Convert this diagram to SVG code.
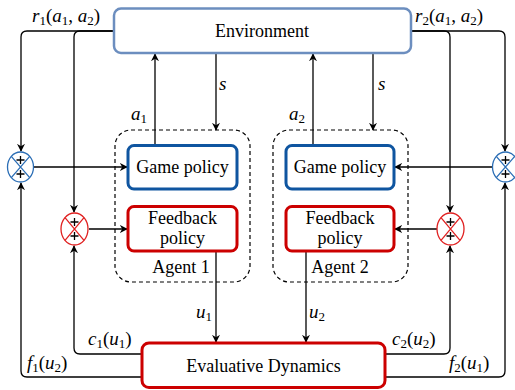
<svg xmlns="http://www.w3.org/2000/svg" width="515" height="390" viewBox="0 0 515 390">
<defs>
<marker id="ah" viewBox="0 0 10 10" refX="9" refY="5" markerWidth="8" markerHeight="8" markerUnits="userSpaceOnUse" orient="auto">
<path d="M0,0 L10,5 L0,10 L3,5 Z" fill="#000"/>
</marker>
<style>
.lbl{font-family:"Liberation Serif","Times New Roman",serif;font-size:18px;fill:#000;text-anchor:middle}
.math{font-family:"Liberation Serif",serif;font-size:19px;fill:#000}
.mi{font-style:italic}
.sub{font-size:13px}
.arr{fill:none;stroke:#000;stroke-width:1.3;marker-end:url(#ah)}
.env{fill:#fff;stroke:#6c8ebf;stroke-width:2.5}
.gp{fill:#fff;stroke:#0f55a0;stroke-width:3}
.fb{fill:#fff;stroke:#cc0000;stroke-width:3}
.agent{fill:none;stroke:#000;stroke-width:1.2;stroke-dasharray:4 3}
.jb{fill:#fff;stroke:#2a6db5;stroke-width:1.3}
.jbx{fill:none;stroke:#2a6db5;stroke-width:1.3}
.jr{fill:#fff;stroke:#e02020;stroke-width:1.3}
.jrx{fill:none;stroke:#e02020;stroke-width:1.3}
.pl{stroke:#000;stroke-width:1.3}
</style>
</defs>

<g id="connectors">
<path class="arr" d="M114,31 H27 Q21,31 21,37 V151"/>
<path class="arr" d="M114,31 H80 Q74,31 74,37 V212"/>
<path class="arr" d="M411,31 H444 Q450,31 450,37 V212"/>
<path class="arr" d="M411,31 H499 Q505,31 505,37 V151"/>
<path class="arr" d="M142,377 H27 Q21,377 21,371 V183"/>
<path class="arr" d="M142,354 H80 Q74,354 74,348 V246"/>
<path class="arr" d="M385,354 H444 Q450,354 450,348 V246"/>
<path class="arr" d="M385,377 H499 Q505,377 505,371 V183"/>
<path class="arr" d="M34,167 H127"/>
<path class="arr" d="M89,229 H127"/>
<path class="arr" d="M492,167 H395"/>
<path class="arr" d="M437,229 H395"/>
<path class="arr" d="M155,145 V54"/>
<path class="arr" d="M216,53 V130"/>
<path class="arr" d="M313,145 V54"/>
<path class="arr" d="M373,53 V130"/>
<path class="arr" d="M216,251 V342"/>
<path class="arr" d="M306,251 V342"/>
</g>

<g id="environment">
<rect class="env" x="114" y="8.5" width="297" height="44.5" rx="7"/>
<text class="lbl" x="262" y="37">Environment</text>
</g>

<g id="agent1">
<rect class="agent" x="115" y="130" width="135" height="152" rx="16"/>
<text class="lbl" x="181" y="273">Agent 1</text>
</g>
<g id="agent2">
<rect class="agent" x="273" y="130" width="135" height="152" rx="16"/>
<text class="lbl" x="340" y="273">Agent 2</text>
</g>

<g id="game-policy-1">
<rect class="gp" x="128" y="145.5" width="109" height="43.5" rx="6"/>
<text class="lbl" x="182.5" y="173">Game policy</text>
</g>
<g id="feedback-policy-1">
<rect class="fb" x="128" y="206.5" width="109" height="44.5" rx="6"/>
<text class="lbl" x="182.5" y="224">Feedback</text>
<text class="lbl" x="182.5" y="244">policy</text>
</g>
<g id="game-policy-2">
<rect class="gp" x="286" y="145.5" width="108" height="43.5" rx="6"/>
<text class="lbl" x="340" y="173">Game policy</text>
</g>
<g id="feedback-policy-2">
<rect class="fb" x="286" y="206.5" width="108" height="44.5" rx="6"/>
<text class="lbl" x="340" y="224">Feedback</text>
<text class="lbl" x="340" y="244">policy</text>
</g>

<g id="evaluative-dynamics">
<rect class="fb" x="142" y="343" width="243" height="44.5" rx="7"/>
<text class="lbl" x="263.5" y="372">Evaluative Dynamics</text>
</g>

<g id="sum-blue-left">
<ellipse class="jb" cx="20.5" cy="167" rx="13" ry="15"/>
<path class="jbx" d="M11.3,156.4 L29.7,177.6 M29.7,156.4 L11.3,177.6"/>
<path class="pl" d="M16.5,160 H24.5 M20.5,156 V164 M16.5,174 H24.5 M20.5,170 V178"/>
</g>
<g id="sum-red-left">
<ellipse class="jr" cx="74.5" cy="229" rx="13.5" ry="16"/>
<path class="jrx" d="M65,217.7 L84,240.3 M84,217.7 L65,240.3"/>
<path class="pl" d="M70.5,222 H78.5 M74.5,218 V226 M70.5,236 H78.5 M74.5,232 V240"/>
</g>
<g id="sum-blue-right">
<ellipse class="jb" cx="505.5" cy="167" rx="13" ry="15"/>
<path class="jbx" d="M496.3,156.4 L514.7,177.6 M514.7,156.4 L496.3,177.6"/>
<path class="pl" d="M501.5,160 H509.5 M505.5,156 V164 M501.5,174 H509.5 M505.5,170 V178"/>
</g>
<g id="sum-red-right">
<ellipse class="jr" cx="450.5" cy="229" rx="13.5" ry="16"/>
<path class="jrx" d="M441,217.7 L460,240.3 M460,217.7 L441,240.3"/>
<path class="pl" d="M446.5,222 H454.5 M450.5,218 V226 M446.5,236 H454.5 M450.5,232 V240"/>
</g>

<g id="labels">
<text class="math" x="32" y="22"><tspan class="mi">r</tspan><tspan class="sub" dy="3">1</tspan><tspan dy="-3">(</tspan><tspan class="mi">a</tspan><tspan class="sub" dy="3">1</tspan><tspan dy="-3">, </tspan><tspan class="mi">a</tspan><tspan class="sub" dy="3">2</tspan><tspan dy="-3">)</tspan></text>
<text class="math" x="415" y="22"><tspan class="mi">r</tspan><tspan class="sub" dy="3">2</tspan><tspan dy="-3">(</tspan><tspan class="mi">a</tspan><tspan class="sub" dy="3">1</tspan><tspan dy="-3">, </tspan><tspan class="mi">a</tspan><tspan class="sub" dy="3">2</tspan><tspan dy="-3">)</tspan></text>
<text class="math" x="131" y="120"><tspan class="mi">a</tspan><tspan class="sub" dy="3">1</tspan></text>
<text class="math" x="289" y="120"><tspan class="mi">a</tspan><tspan class="sub" dy="3">2</tspan></text>
<text class="math mi" x="219" y="90">s</text>
<text class="math mi" x="378" y="90">s</text>
<text class="math" x="196" y="318"><tspan class="mi">u</tspan><tspan class="sub" dy="3">1</tspan></text>
<text class="math" x="309" y="318"><tspan class="mi">u</tspan><tspan class="sub" dy="3">2</tspan></text>
<text class="math" x="88" y="345"><tspan class="mi">c</tspan><tspan class="sub" dy="3">1</tspan><tspan dy="-3">(</tspan><tspan class="mi">u</tspan><tspan class="sub" dy="3">1</tspan><tspan dy="-3">)</tspan></text>
<text class="math" x="392" y="345"><tspan class="mi">c</tspan><tspan class="sub" dy="3">2</tspan><tspan dy="-3">(</tspan><tspan class="mi">u</tspan><tspan class="sub" dy="3">2</tspan><tspan dy="-3">)</tspan></text>
<text class="math" x="27" y="369"><tspan class="mi">f</tspan><tspan class="sub" dy="3">1</tspan><tspan dy="-3">(</tspan><tspan class="mi">u</tspan><tspan class="sub" dy="3">2</tspan><tspan dy="-3">)</tspan></text>
<text class="math" x="449" y="369"><tspan class="mi">f</tspan><tspan class="sub" dy="3">2</tspan><tspan dy="-3">(</tspan><tspan class="mi">u</tspan><tspan class="sub" dy="3">1</tspan><tspan dy="-3">)</tspan></text>
</g>
</svg>
